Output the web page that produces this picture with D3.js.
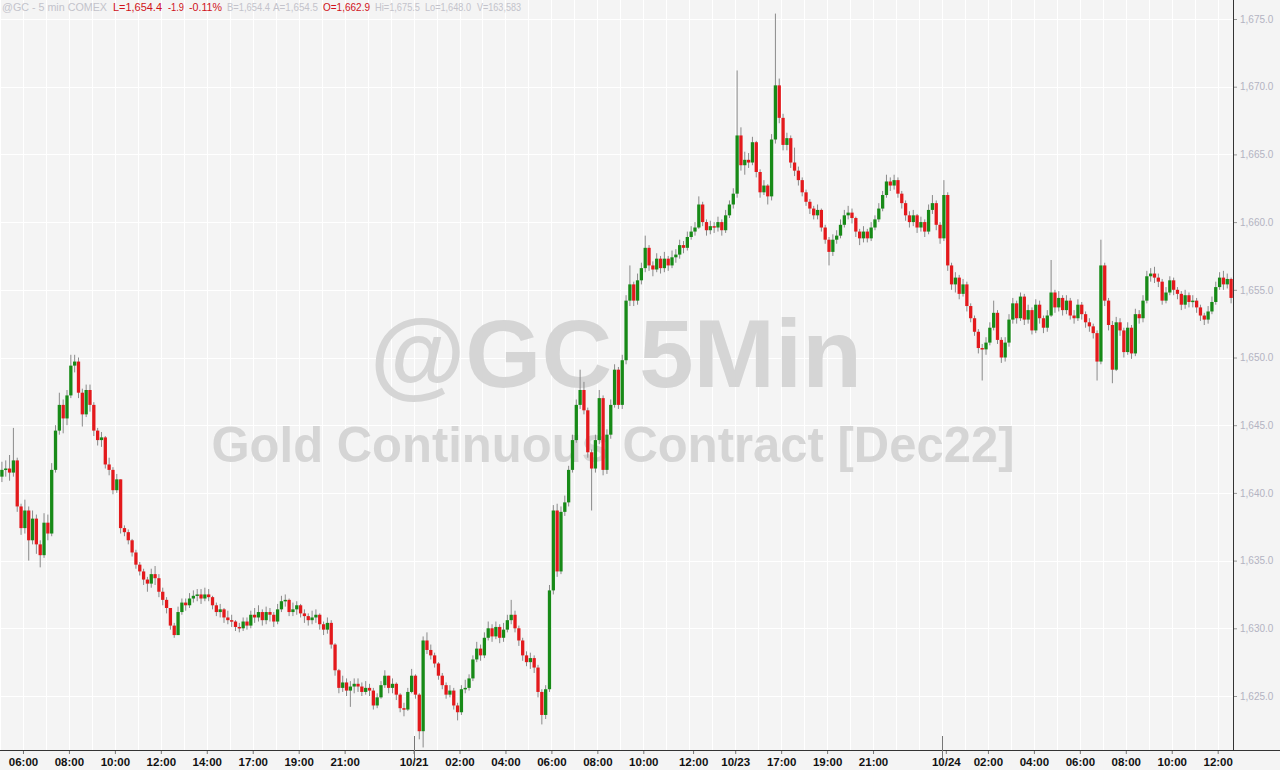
<!DOCTYPE html>
<meta charset="utf-8">
<title>@GC 5 min</title>
<style>

html, body {
  margin: 0;
  padding: 0;
  overflow: hidden;
  background: #f4f4f4;
}

.hdr {
  font: 11px Arial, "Liberation Sans", sans-serif;
}

.mark {
  font-family: Arial, "Liberation Sans", sans-serif;
  font-weight: bold;
  fill: #d5d5d5;
  text-anchor: middle;
}

.yaxis text {
  font: 10px Arial, "Liberation Sans", sans-serif;
  fill: #b3b3c2;
}

.xaxis text {
  font: bold 11.5px Arial, "Liberation Sans", sans-serif;
  fill: #111;
}

</style>
<svg width="1280" height="770"></svg>
<script src="https://d3js.org/d3.v7.min.js"></script>
<script>

// 5 min bars (open = previous close)
var firstOpen = 1641.2;

var closes = [
  1641.7,1641.8,1641.5,1642.4,1639.0,1637.4,1638.7,1636.5,1638.1,1636.2,
  1635.4,1637.8,1637.0,1641.7,1644.6,1646.5,1645.5,1647.2,1649.4,1649.7,
  1647.4,1645.8,1647.6,1646.5,1644.6,1643.9,1644.1,1642.1,1641.7,1640.2,
  1641.0,1637.4,1637.1,1636.5,1635.6,1634.7,1634.2,1633.6,1633.3,1634.0,
  1633.7,1632.7,1632.1,1631.5,1630.2,1629.5,1631.2,1631.9,1631.7,1632.2,
  1632.4,1632.5,1632.2,1632.5,1632.3,1631.7,1631.2,1631.4,1630.8,1630.6,
  1630.5,1630.1,1630.0,1630.5,1630.2,1631.0,1630.8,1631.2,1630.6,1631.2,
  1631.0,1630.5,1631.4,1632.0,1632.1,1631.2,1631.4,1631.7,1631.1,1630.9,
  1630.6,1630.8,1631.0,1630.3,1629.9,1630.4,1628.8,1626.9,1625.6,1626.0,
  1625.4,1625.7,1625.9,1625.7,1625.3,1625.6,1625.4,1624.3,1624.9,1625.8,
  1626.5,1625.6,1625.9,1625.1,1624.1,1624.0,1625.3,1626.5,1625.1,1622.4,
  1629.1,1628.4,1628.0,1627.4,1626.5,1625.8,1625.1,1625.4,1624.3,1623.8,
  1625.5,1625.6,1626.3,1627.7,1628.5,1628.0,1629.3,1630.0,1629.4,1630.1,
  1629.3,1629.9,1630.6,1631.0,1630.0,1629.1,1628.0,1627.5,1627.8,1627.1,
  1625.3,1623.6,1625.5,1632.8,1638.7,1634.2,1638.6,1639.3,1641.7,1643.9,
  1646.5,1647.6,1646.1,1643.0,1641.8,1643.9,1647.0,1641.7,1644.3,1646.5,
  1649.1,1646.5,1649.8,1654.2,1655.4,1654.2,1655.7,1656.6,1658.1,1656.8,
  1656.5,1657.3,1656.6,1657.3,1656.8,1657.4,1657.6,1658.3,1658.1,1658.9,
  1659.3,1659.6,1661.3,1660.0,1659.4,1659.7,1659.6,1660.0,1659.4,1660.5,
  1661.3,1662.1,1666.4,1664.2,1664.6,1664.4,1665.9,1663.7,1662.2,1662.7,
  1661.9,1666.1,1670.1,1667.7,1665.7,1666.2,1664.4,1663.8,1663.1,1662.2,
  1661.5,1661.0,1660.5,1660.9,1659.6,1658.7,1657.8,1658.7,1659.0,1659.8,
  1660.5,1660.7,1660.3,1659.3,1658.8,1659.3,1658.8,1659.6,1660.2,1661.0,
  1662.0,1663.0,1662.7,1663.1,1662.1,1661.4,1660.5,1660.0,1660.5,1659.6,
  1660.0,1659.3,1660.9,1661.4,1659.8,1658.8,1662.0,1656.8,1655.4,1655.9,
  1654.7,1655.4,1653.8,1652.9,1651.9,1650.7,1650.6,1651.1,1652.2,1653.3,
  1651.3,1650.0,1651.1,1652.8,1654.0,1652.9,1654.5,1652.8,1653.5,1652.0,
  1653.9,1652.9,1652.2,1653.1,1654.8,1653.7,1654.4,1653.5,1654.2,1653.1,
  1652.9,1653.9,1653.2,1652.6,1652.3,1651.8,1649.7,1656.8,1654.2,1652.4,
  1649.1,1652.6,1652.0,1650.4,1652.2,1650.3,1653.2,1652.9,1654.2,1656.0,
  1656.2,1655.9,1655.6,1654.2,1654.8,1655.7,1655.0,1654.7,1653.9,1654.6,
  1654.1,1654.2,1653.7,1653.1,1652.8,1653.4,1654.1,1655.2,1655.9,1655.4,
  1655.8,1654.4
];

var highs = [
  1642.3,1642.4,1642.8,1644.8,1642.6,1639.2,1639.5,1639.0,1638.7,1638.4,
  1636.5,1638.5,1638.4,1642.2,1645.0,1647.4,1646.9,1647.6,1650.2,1650.2,
  1650.0,1647.7,1648.0,1648.0,1646.7,1644.8,1644.5,1644.2,1642.6,1641.9,
  1641.4,1641.0,1637.6,1637.3,1636.6,1635.8,1634.9,1634.4,1633.8,1634.4,
  1634.6,1634.0,1633.0,1632.3,1631.3,1630.4,1631.6,1632.2,1632.2,1632.6,
  1632.8,1632.9,1632.9,1633.0,1632.9,1632.4,1631.9,1631.8,1631.5,1631.3,
  1631.0,1630.6,1630.4,1630.8,1630.8,1631.3,1631.5,1631.7,1631.4,1631.6,
  1631.5,1631.2,1631.8,1632.4,1632.5,1632.2,1631.9,1632.0,1631.8,1631.4,
  1631.1,1631.3,1631.4,1631.1,1630.5,1630.8,1630.6,1628.9,1627.0,1626.5,
  1626.3,1626.1,1626.3,1626.3,1626.0,1626.1,1625.9,1625.6,1625.2,1626.1,
  1626.9,1626.5,1626.3,1626.0,1625.2,1624.5,1625.6,1627.0,1626.6,1625.2,
  1629.4,1629.7,1628.8,1628.2,1627.5,1626.7,1626.0,1625.8,1625.6,1624.5,
  1625.8,1626.2,1626.6,1628.0,1629.0,1628.8,1629.7,1630.5,1630.3,1630.5,
  1630.3,1630.4,1631.0,1632.1,1631.3,1630.2,1629.3,1628.3,1628.2,1628.0,
  1627.3,1625.5,1625.8,1633.2,1639.1,1639.2,1639.0,1639.8,1642.0,1644.3,
  1646.9,1649.1,1648.2,1646.3,1643.2,1644.3,1647.6,1647.2,1644.7,1646.9,
  1649.5,1649.3,1650.2,1654.6,1656.8,1655.6,1656.2,1657.0,1659.0,1658.3,
  1657.1,1657.7,1657.5,1657.8,1657.5,1657.9,1658.0,1658.7,1658.6,1659.3,
  1659.7,1660.0,1661.9,1661.5,1660.2,1660.1,1660.0,1660.4,1660.2,1660.9,
  1661.6,1662.5,1671.2,1667.0,1665.2,1665.1,1666.3,1666.0,1663.9,1663.1,
  1662.8,1666.5,1675.4,1670.6,1668.0,1666.6,1666.4,1665.5,1664.1,1663.3,
  1662.4,1661.7,1661.2,1661.3,1661.0,1659.8,1658.9,1659.1,1659.4,1660.2,
  1660.9,1661.2,1661.0,1660.4,1659.5,1659.7,1659.5,1660.0,1660.5,1661.4,
  1662.3,1663.5,1663.3,1663.5,1663.3,1662.3,1661.6,1660.8,1660.9,1660.6,
  1660.4,1660.2,1661.3,1662.0,1661.6,1660.0,1663.1,1662.2,1657.0,1656.3,
  1656.1,1655.8,1655.6,1654.0,1653.1,1652.1,1651.0,1651.5,1652.6,1654.2,
  1653.5,1651.5,1651.5,1653.2,1654.4,1654.2,1654.8,1654.7,1653.9,1653.7,
  1654.3,1654.2,1653.1,1653.5,1657.2,1655.0,1654.9,1654.6,1654.6,1654.4,
  1653.5,1654.3,1654.1,1653.4,1652.9,1652.5,1652.0,1658.7,1657.0,1654.4,
  1652.7,1653.0,1652.9,1652.2,1652.6,1652.4,1653.6,1653.5,1654.6,1656.4,
  1656.6,1656.7,1656.2,1655.8,1655.2,1656.0,1655.9,1655.2,1654.9,1655.0,
  1654.8,1654.6,1654.4,1653.9,1653.3,1653.8,1654.5,1655.6,1656.3,1656.4,
  1656.2,1655.9
];

var lows = [
  1640.8,1641.2,1640.9,1641.2,1638.6,1636.9,1637.0,1635.0,1636.2,1635.5,
  1634.5,1635.2,1636.5,1636.8,1641.5,1644.3,1644.4,1645.0,1647.0,1648.9,
  1647.0,1644.9,1645.6,1646.0,1644.2,1643.5,1643.4,1641.8,1641.3,1639.9,
  1640.0,1637.0,1636.8,1636.2,1635.3,1634.4,1633.9,1633.2,1632.7,1633.0,
  1633.2,1632.3,1631.7,1631.1,1629.9,1629.3,1629.5,1631.0,1631.3,1631.5,
  1631.9,1632.0,1631.8,1632.0,1632.0,1631.4,1630.9,1630.8,1630.4,1630.3,
  1630.1,1629.8,1629.7,1629.8,1629.9,1630.0,1630.4,1630.5,1630.2,1630.3,
  1630.5,1630.1,1630.3,1631.2,1631.6,1630.9,1630.9,1631.0,1630.8,1630.4,
  1630.2,1630.3,1630.4,1629.9,1629.5,1629.6,1628.5,1626.5,1625.2,1625.3,
  1625.0,1624.2,1625.2,1625.3,1625.0,1625.1,1625.0,1624.0,1624.1,1624.8,
  1625.6,1625.2,1625.2,1624.7,1623.8,1623.5,1623.9,1625.2,1624.8,1621.8,
  1621.2,1628.1,1627.7,1627.1,1626.2,1625.5,1624.8,1624.9,1624.0,1623.2,
  1623.6,1625.2,1625.4,1626.1,1627.5,1627.6,1627.8,1629.1,1629.0,1629.2,
  1628.9,1629.0,1629.7,1630.3,1629.7,1628.7,1627.6,1627.2,1627.0,1626.7,
  1624.9,1622.9,1623.3,1625.3,1632.5,1633.8,1634.0,1638.3,1639.0,1641.5,
  1643.7,1646.2,1645.8,1642.6,1638.7,1641.5,1643.6,1641.3,1641.4,1644.0,
  1646.3,1646.2,1646.2,1649.5,1653.8,1653.8,1653.9,1655.4,1656.3,1656.4,
  1656.0,1656.3,1656.2,1656.3,1656.4,1656.6,1657.0,1657.3,1657.7,1657.9,
  1658.7,1659.0,1659.5,1659.7,1659.0,1659.1,1659.2,1659.3,1659.0,1659.2,
  1660.3,1661.0,1661.8,1663.8,1663.5,1664.0,1664.2,1663.3,1661.8,1662.0,
  1661.3,1661.6,1665.8,1667.3,1665.3,1665.3,1664.0,1663.4,1662.7,1661.9,
  1661.2,1660.6,1660.2,1660.2,1659.3,1658.4,1656.8,1657.5,1658.4,1658.8,
  1659.6,1660.2,1659.9,1658.9,1658.3,1658.5,1658.5,1658.6,1659.4,1660.0,
  1660.8,1661.8,1662.3,1662.4,1661.8,1661.0,1660.1,1659.6,1659.7,1659.2,
  1659.3,1658.9,1659.1,1660.6,1659.4,1658.4,1658.6,1656.4,1655.0,1654.8,
  1654.3,1654.5,1653.4,1652.6,1651.6,1650.3,1648.3,1650.2,1650.9,1652.0,
  1651.0,1649.6,1649.7,1650.8,1652.5,1652.5,1652.7,1652.4,1652.5,1651.7,
  1651.8,1652.5,1651.8,1651.9,1653.0,1653.3,1653.4,1653.1,1653.2,1652.8,
  1652.5,1652.7,1652.8,1652.2,1651.9,1651.4,1648.3,1649.5,1653.8,1652.0,
  1648.1,1649.0,1651.6,1650.0,1650.2,1649.9,1650.1,1652.5,1652.6,1654.0,
  1655.6,1655.5,1655.2,1653.9,1654.0,1654.6,1654.6,1654.3,1653.5,1653.6,
  1653.7,1653.7,1653.3,1652.7,1652.4,1652.5,1653.2,1653.9,1655.0,1655.0,
  1655.1,1654.0
];

// time axis: bar index of each label
var tickIdx = [6, 18, 30, 42, 54, 66, 78, 90, 108, 120, 132, 144, 156, 168, 181,
               192, 204, 216, 228, 247, 258, 270, 282, 294, 306, 318];
var tickLabels = ["06:00", "08:00", "10:00", "12:00", "14:00", "17:00", "19:00", "21:00",
                  "10/21", "02:00", "04:00", "06:00", "08:00", "10:00", "12:00",
                  "10/23", "17:00", "19:00", "21:00", "10/24", "02:00", "04:00",
                  "06:00", "08:00", "10:00", "12:00"];
var dayIdx = [108, 246];

var priceTicks = [1625, 1630, 1635, 1640, 1645, 1650, 1655, 1660, 1665, 1670, 1675];

var svg = d3.select("svg"),
    width = +svg.attr("width"),
    height = +svg.attr("height"),
    plotR = 1233,
    plotB = 750;

var x = d3.scaleLinear().domain([0, closes.length]).range([0, plotR]);
var y = d3.scaleLinear().domain([1625, 1675]).range([696, 19]);

// build bar objects
var bars = closes.map(function(c, i) {
  var o = i ? closes[i - 1] : firstOpen;
  return { i: i, o: o, c: c,
           h: Math.max(highs[i], o, c),
           l: Math.min(lows[i], o, c) };
});

svg.append("rect")
    .attr("width", width)
    .attr("height", height)
    .attr("fill", "#f4f4f4");

// grid
var grid = svg.append("g");
grid.selectAll(".hg")
  .data(priceTicks)
  .enter().append("line")
    .attr("x1", 0).attr("x2", plotR)
    .attr("y1", function(d) { return Math.round(y(d)) + 0.5; })
    .attr("y2", function(d) { return Math.round(y(d)) + 0.5; })
    .attr("stroke", "#fff");

grid.selectAll(".vg")
  .data(d3.range(0, closes.length, 6))
  .enter().append("line")
    .attr("y1", 0).attr("y2", plotB)
    .attr("x1", function(d) { return Math.round(x(d)) + 0.5; })
    .attr("x2", function(d) { return Math.round(x(d)) + 0.5; })
    .attr("stroke", "#fff");

// watermark
svg.append("text")
    .attr("class", "mark")
    .attr("x", 616)
    .attr("y", 387)
    .attr("font-size", 97)
    .attr("textLength", 492)
    .attr("lengthAdjust", "spacingAndGlyphs")
    .text("@GC 5Min");

svg.append("text")
    .attr("class", "mark")
    .attr("x", 613)
    .attr("y", 462)
    .attr("font-size", 50)
    .attr("textLength", 803)
    .attr("lengthAdjust", "spacingAndGlyphs")
    .text("Gold Continuous Contract [Dec22]");

// candles
var bw = 3.3;
var candle = svg.append("g").selectAll("g")
  .data(bars)
  .enter().append("g");

candle.append("line")
    .attr("x1", function(d) { return x(d.i + 0.5); })
    .attr("x2", function(d) { return x(d.i + 0.5); })
    .attr("y1", function(d) { return y(d.h); })
    .attr("y2", function(d) { return y(d.l); })
    .attr("stroke", "#8a8a8a")
    .attr("stroke-width", 1);

candle.append("rect")
    .attr("x", function(d) { return x(d.i + 0.5) - bw / 2; })
    .attr("width", bw)
    .attr("y", function(d) { return y(Math.max(d.o, d.c)); })
    .attr("height", function(d) { return Math.max(1.5, Math.abs(y(d.o) - y(d.c))); })
    .attr("fill", function(d) { return d.c >= d.o ? "#178a17" : "#e3191c"; });

// axes
var yAxis = svg.append("g")
    .attr("class", "yaxis")
    .attr("transform", "translate(" + plotR + ",0)")
    .call(d3.axisRight(y)
      .tickValues(priceTicks)
      .tickSize(4)
      .tickPadding(3)
      .tickFormat(d3.format(",.1f")));
yAxis.select(".domain").remove();
yAxis.selectAll("line").attr("stroke", "#999");

var xAxis = svg.append("g")
    .attr("class", "xaxis")
    .attr("transform", "translate(0," + plotB + ")")
    .call(d3.axisBottom(x)
      .tickValues(tickIdx)
      .tickSize(4)
      .tickPadding(4)
      .tickFormat(function(d, k) { return tickLabels[k]; }));
xAxis.select(".domain").remove();
xAxis.selectAll("line").attr("stroke", "#777");

svg.append("line")
    .attr("x1", plotR + 0.5).attr("x2", plotR + 0.5)
    .attr("y1", 0).attr("y2", plotB)
    .attr("stroke", "#333");

svg.append("line")
    .attr("x1", 0).attr("x2", width)
    .attr("y1", plotB + 0.5).attr("y2", plotB + 0.5)
    .attr("stroke", "#333");

// day separators
svg.selectAll(".day")
  .data(dayIdx)
  .enter().append("line")
    .attr("x1", function(d) { return Math.round(x(d)) + 0.5; })
    .attr("x2", function(d) { return Math.round(x(d)) + 0.5; })
    .attr("y1", 736).attr("y2", 758)
    .attr("stroke", "#777");

// header line, each piece squeezed to the width it has in the picture
var hdr = [
  { t: "@GC - 5 min  COMEX", x: 2,   w: 105, red: false },
  { t: "L=1,654.4",          x: 113, w: 49,  red: true },
  { t: "-1.9",               x: 168, w: 16,  red: true },
  { t: "-0.11%",             x: 189, w: 33,  red: true },
  { t: "B=1,654.4",          x: 227, w: 43,  red: false },
  { t: "A=1,654.5",          x: 273, w: 45,  red: false },
  { t: "O=1,662.9",          x: 323, w: 47,  red: true },
  { t: "Hi=1,675.5",         x: 375, w: 45,  red: false },
  { t: "Lo=1,648.0",         x: 425, w: 46,  red: false },
  { t: "V=163,583",          x: 477, w: 44,  red: false }
];

svg.selectAll(".hdr")
  .data(hdr)
  .enter().append("text")
    .attr("class", "hdr")
    .attr("x", function(d) { return d.x; })
    .attr("y", 11)
    .attr("textLength", function(d) { return d.w; })
    .attr("lengthAdjust", "spacingAndGlyphs")
    .attr("fill", function(d) { return d.red ? "#d0121a" : "#c3c3cb"; })
    .attr("font-weight", function(d) { return d.red ? "bold" : "normal"; })
    .text(function(d) { return d.t; });

</script>
